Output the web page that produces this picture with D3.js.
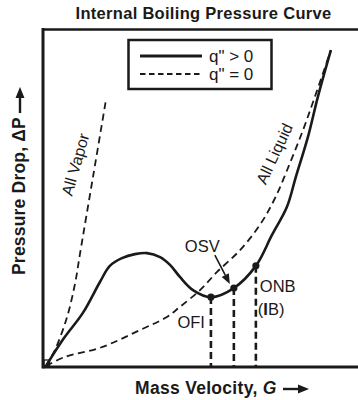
<!DOCTYPE html>
<html><head><meta charset="utf-8">
<script src="https://cdn.jsdelivr.net/npm/d3@7"></script>
<style>
html,body{margin:0;padding:0;background:#fff;}
text{font-family:"Liberation Sans",Arial,sans-serif;fill:#1a1a1a;}
</style></head>
<body>
<svg id="c" width="358" height="400"></svg>
<script>
// ---- data (x = mass velocity, y = pressure drop, arbitrary units 0-100) ----
const heatedG   = [0, 5.8, 11.9, 17.4, 20.6, 24.5, 28.7, 32.6, 36.8, 40.0, 43.2, 47.4, 53.2, 60.6, 67.7, 72.9, 77.7, 80.6, 84.5, 87.7, 91.9];
const heatedDP  = [0, 8.3, 15.8, 25.0, 29.8, 32.1, 33.3, 33.6, 32.4, 30.1, 26.5, 22.6, 20.5, 23.2, 29.8, 39.0, 47.3, 56.3, 68.2, 80.1, 94.0];
const liquidG   = [0, 6.1, 17.4, 30.3, 39.0, 43.2, 49.7, 55.2, 62.6, 69.0, 73.9, 78.7, 82.9, 86.5, 91.9];
const liquidDP  = [0, 2.7, 5.4, 10.7, 14.6, 17.6, 22.6, 28.0, 34.5, 42.0, 50.0, 60.4, 70.2, 79.5, 94.0];
const vaporG    = [0, 2.9, 6.8, 9.4, 11.0, 15.2, 19.4];
const vaporDP   = [0, 4.8, 14.6, 24.7, 33.6, 56.5, 79.5];
const pointNames = ["OFI", "OSV", "ONB"];
const pointG     = [53.2, 60.6, 67.7];
const pointDP    = [20.5, 23.2, 29.8];
const legendLabels = ['q" > 0', 'q" = 0'];
const titleText = "Internal Boiling Pressure Curve";

const svg = d3.select("#c");
const x = d3.scaleLinear().domain([0,100]).range([46,356]);
const y = d3.scaleLinear().domain([0,100]).range([366,30]);
const ink = "#1a1a1a";

const zip = (a,b)=>a.map((v,i)=>[v,b[i]]);
const line = d3.line().x(d=>x(d[0])).y(d=>y(d[1])).curve(d3.curveCatmullRom.alpha(0.5));

// frame
const L = 43, R = 358, T = 29.5, B = 367;
svg.append("line").attr("x1",L).attr("x2",L).attr("y1",T-1.5).attr("y2",B+1.5).attr("stroke",ink).attr("stroke-width",3);
svg.append("line").attr("x1",L).attr("x2",R).attr("y1",T).attr("y2",T).attr("stroke",ink).attr("stroke-width",2.5);
svg.append("line").attr("x1",L).attr("x2",R).attr("y1",B).attr("y2",B).attr("stroke",ink).attr("stroke-width",3);
svg.append("rect").attr("x",L+1).attr("y",B-7).attr("width",5.5).attr("height",6).attr("fill","none").attr("stroke",ink).attr("stroke-width",1.3);

// curves
svg.append("path").attr("d",line(zip(vaporG,vaporDP))).attr("fill","none").attr("stroke",ink).attr("stroke-width",1.8).attr("stroke-dasharray","7,4.5");
svg.append("path").attr("d",line(zip(liquidG,liquidDP))).attr("fill","none").attr("stroke",ink).attr("stroke-width",1.8).attr("stroke-dasharray","7,4.5");
svg.append("path").attr("d",line(zip(heatedG,heatedDP))).attr("fill","none").attr("stroke",ink).attr("stroke-width",2.6);

// drop lines & dots
pointG.forEach((g,i)=>{
  svg.append("line").attr("x1",x(g)).attr("x2",x(g)).attr("y1",y(pointDP[i])).attr("y2",B)
    .attr("stroke",ink).attr("stroke-width",2.6).attr("stroke-dasharray","7,4");
});
pointG.forEach((g,i)=>{
  svg.append("circle").attr("cx",x(g)).attr("cy",y(pointDP[i])).attr("r",3.6).attr("fill",ink);
});

// point labels
svg.append("text").attr("x",x(pointG[0])-6).attr("y",y(pointDP[0])+31).attr("text-anchor","end").attr("font-size",16.5).text(pointNames[0]);
svg.append("text").attr("x",x(pointG[1])-49).attr("y",y(pointDP[1])-36).attr("font-size",16.5).text(pointNames[1]);
svg.append("text").attr("x",x(pointG[2])+4).attr("y",y(pointDP[2])+26).attr("font-size",16.5).text(pointNames[2]);
const ib = svg.append("text").attr("x",x(pointG[2])+2).attr("y",y(pointDP[2])+49).attr("font-size",16.5);
ib.append("tspan").text("(");
ib.append("tspan").attr("font-weight","bold").text("I");
ib.append("tspan").text("B)");

// OSV arrow
{
  const x0 = x(pointG[1])-19, y0 = y(pointDP[1])-33;
  const x1 = x(pointG[1])-4,  y1 = y(pointDP[1])-4;
  const ang = Math.atan2(y1-y0, x1-x0);
  const hl = 10, hw = 4;
  const bx = x1 - hl*Math.cos(ang), by = y1 - hl*Math.sin(ang);
  svg.append("line").attr("x1",x0).attr("y1",y0).attr("x2",bx).attr("y2",by).attr("stroke",ink).attr("stroke-width",1.6);
  const px = -Math.sin(ang)*hw, py = Math.cos(ang)*hw;
  svg.append("path").attr("d",`M${x1},${y1}L${bx+px},${by+py}L${bx-px},${by-py}Z`).attr("fill",ink);
}

// curve labels
svg.append("text").attr("transform",`translate(${x(11.2)},${y(59.5)}) rotate(-74)`).attr("text-anchor","middle").attr("font-size",16).text("All Vapor");
svg.append("text").attr("transform",`translate(${x(75.3)},${y(62.5)}) rotate(-65)`).attr("text-anchor","middle").attr("font-size",16).text("All Liquid");

// legend
const lg = svg.append("g");
lg.append("rect").attr("x",128.5).attr("y",40).attr("width",143).attr("height",49).attr("fill","#fff").attr("stroke",ink).attr("stroke-width",2.5);
lg.append("line").attr("x1",140).attr("x2",202).attr("y1",56).attr("y2",56).attr("stroke",ink).attr("stroke-width",3);
lg.append("line").attr("x1",140).attr("x2",202).attr("y1",74).attr("y2",74).attr("stroke",ink).attr("stroke-width",1.8).attr("stroke-dasharray","5.5,3.5");
lg.append("text").attr("x",209).attr("y",61.5).attr("font-size",17).text(legendLabels[0]);
lg.append("text").attr("x",209).attr("y",79.5).attr("font-size",17).text(legendLabels[1]);

// title
svg.append("text").attr("x",203.5).attr("y",19).attr("text-anchor","middle").attr("font-size",16.5).attr("font-weight","bold").attr("letter-spacing",0.3).text(titleText);

// x label
const xl = svg.append("text").attr("x",135).attr("y",394).attr("font-size",17.5).attr("font-weight","bold").attr("letter-spacing",0.3);
xl.append("tspan").text("Mass Velocity, ");
xl.append("tspan").attr("font-style","italic").text("G");
function arrow(x0,y0,x1,y1){
  const ang = Math.atan2(y1-y0,x1-x0), hl=11, hw=4.5;
  const bx = x1-hl*Math.cos(ang), by=y1-hl*Math.sin(ang);
  svg.append("line").attr("x1",x0).attr("y1",y0).attr("x2",bx).attr("y2",by).attr("stroke",ink).attr("stroke-width",2.4);
  const px=-Math.sin(ang)*hw, py=Math.cos(ang)*hw;
  svg.append("path").attr("d",`M${x1},${y1}L${bx+px},${by+py}L${bx-px},${by-py}Z`).attr("fill",ink);
}
arrow(283,389,309,389);

// y label
svg.append("text").attr("transform","translate(25,275) rotate(-90)").attr("font-size",17.5).attr("font-weight","bold").attr("letter-spacing",0.2).text("Pressure Drop, ΔP");
arrow(20,113,20,87);
</script>
</body></html>
